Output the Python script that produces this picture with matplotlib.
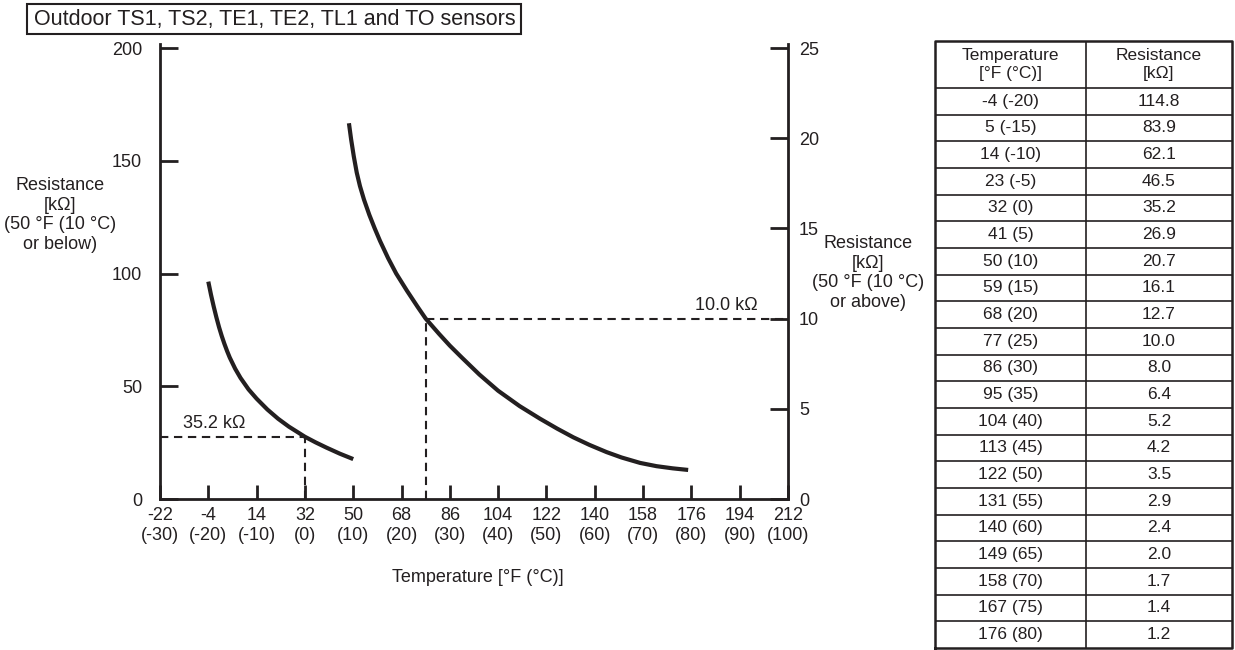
import matplotlib.pyplot as plt
from matplotlib.patches import Rectangle

plt.rcParams.update({
    'font.family': ['Liberation Sans', 'DejaVu Sans'],
    'font.size': 13,
    'text.color': '#231f20',
    'axes.edgecolor': '#231f20',
    'xtick.color': '#231f20',
    'ytick.color': '#231f20',
})
INK = '#231f20'

# Curve: left scale (50 F or below)
low_temp_f = [-4, -3, -2, -1, 0, 1, 2, 3, 4, 6, 8, 11, 14, 18, 22, 26, 32, 36, 40, 45, 50]
low_res_k = [96.4, 90.6, 85.4, 80.6, 76.2, 72.3, 68.8, 65.6, 62.7, 57.8, 53.7, 48.6, 44.5,
             39.7, 35.6, 32.1, 27.6, 25.1, 22.8, 20.1, 17.7]

# Curve: right scale (50 F or above)
high_temp_f = [48.4, 49.2, 50.2, 51.3, 52.5, 54, 56, 58, 60, 63, 66, 70, 74, 77, 82, 86, 90.4,
               97, 104, 112, 119.6, 126, 132, 138, 144.4, 150, 156.9, 163, 169, 174.8]
high_res_k = [20.83, 19.95, 19.0, 18.1, 17.35, 16.6, 15.75, 15.0, 14.3, 13.35, 12.5, 11.55,
              10.65, 10.0, 9.15, 8.5, 7.85, 6.9, 6.0, 5.15, 4.45, 3.9, 3.42, 3.0, 2.6, 2.3,
              2.0, 1.82, 1.7, 1.61]

# reference markers (x, y) and their labels
low_mark = (32, 27.6)
high_mark = (77, 10.0)
low_mark_text = '35.2 k\u03a9'
high_mark_text = '10.0 k\u03a9'

x_ticks = [-22, -4, 14, 32, 50, 68, 86, 104, 122, 140, 158, 176, 194, 212]
x_tick_c = [-30, -20, -10, 0, 10, 20, 30, 40, 50, 60, 70, 80, 90, 100]
left_ticks = [0, 50, 100, 150, 200]
right_ticks = [0, 5, 10, 15, 20, 25]

# table
tab_temp = ['-4 (-20)', '5 (-15)', '14 (-10)', '23 (-5)', '32 (0)', '41 (5)', '50 (10)',
            '59 (15)', '68 (20)', '77 (25)', '86 (30)', '95 (35)', '104 (40)', '113 (45)',
            '122 (50)', '131 (55)', '140 (60)', '149 (65)', '158 (70)', '167 (75)', '176 (80)']
tab_res = ['114.8', '83.9', '62.1', '46.5', '35.2', '26.9', '20.7', '16.1', '12.7', '10.0',
           '8.0', '6.4', '5.2', '4.2', '3.5', '2.9', '2.4', '2.0', '1.7', '1.4', '1.2']

W, H = 1235, 650
fig = plt.figure(figsize=(W / 100, H / 100), dpi=100)

# main chart
ax = fig.add_axes([160 / W, 1 - 499 / H, 628 / W, 455.5 / H])
ax.set_xlim(-22, 212)
ax.set_ylim(0, 202)
ax2 = ax.twinx()
ax2.set_ylim(0, 25.25)

for a in (ax, ax2):
    a.spines['top'].set_visible(False)
    for s in ('left', 'right', 'bottom'):
        a.spines[s].set_linewidth(2)
ax.spines['right'].set_visible(False)
ax2.spines['left'].set_visible(False)
ax2.spines['bottom'].set_visible(False)

ax.plot(low_temp_f, low_res_k, color=INK, lw=3, solid_capstyle='butt', solid_joinstyle='round')
ax2.plot(high_temp_f, high_res_k, color=INK, lw=3, solid_capstyle='butt', solid_joinstyle='round')

dash = dict(color=INK, lw=1.5, linestyle=(0, (4, 2.7)))
ax.plot([-22, low_mark[0]], [low_mark[1], low_mark[1]], **dash)
ax.plot([low_mark[0], low_mark[0]], [0, low_mark[1]], **dash)
ax2.plot([high_mark[0], 212], [high_mark[1], high_mark[1]], **dash)
ax2.plot([high_mark[0], high_mark[0]], [0, high_mark[1]], **dash)

ax.text(-13.4, 33.7, low_mark_text, ha='left', va='center')
ax2.text(200.8, 10.75, high_mark_text, ha='right', va='center')

ax.set_xticks(x_ticks)
ax.set_xticklabels([f'{f}\n({c})' for f, c in zip(x_ticks, x_tick_c)])
ax.tick_params(axis='x', direction='in', length=10, width=2, pad=6, labelsize=13)
ax.set_yticks(left_ticks)
ax.tick_params(axis='y', direction='in', length=13, width=2, pad=13, labelsize=13)
ax2.set_yticks(right_ticks)
ax2.tick_params(axis='y', direction='in', length=13, width=2, pad=8, labelsize=13)

fig.text(478 / W, 1 - 578 / H, 'Temperature [\u00b0F (\u00b0C)]', ha='center', va='center')
fig.text(60 / W, 1 - 215 / H, 'Resistance\n[k\u03a9]\n(50 \u00b0F (10 \u00b0C)\nor below)',
         ha='center', va='center', multialignment='center', linespacing=1.2)
fig.text(868 / W, 1 - 273 / H, 'Resistance\n[k\u03a9]\n(50 \u00b0F (10 \u00b0C)\nor above)',
         ha='center', va='center', multialignment='center', linespacing=1.2)

# title box
fig.patches.append(Rectangle((27 / W, 1 - 34 / H), 494 / W, 30 / H, transform=fig.transFigure,
                             fill=False, edgecolor=INK, lw=1.5))
fig.text(34 / W, 1 - 19 / H, 'Outdoor TS1, TS2, TE1, TE2, TL1 and TO sensors',
         ha='left', va='center', fontsize=15.5)

# table
n = len(tab_temp)
head = 47 / 26.67
tax = fig.add_axes([935 / W, 1 - 648 / H, 297 / W, 607 / H])
tax.set_xlim(0, 2)
tax.set_ylim(0, n + head)
tax.axis('off')
col_split = (1086 - 935) / 297 * 2
tax.plot([0, 2, 2, 0, 0], [0, 0, n + head, n + head, 0], color=INK, lw=1.8, clip_on=False)
tax.plot([col_split, col_split], [0, n + head], color=INK, lw=1.2)
for i in range(1, n + 1):
    tax.plot([0, 2], [i, i], color=INK, lw=1.2)
tax.text(col_split / 2, n + head / 2, 'Temperature\n[\u00b0F (\u00b0C)]', ha='center', va='center',
         fontsize=12.5, linespacing=1.2)
tax.text((col_split + 2) / 2, n + head / 2, 'Resistance\n[k\u03a9]', ha='center', va='center',
         fontsize=12.5, linespacing=1.2)
for i, (t, r) in enumerate(zip(tab_temp, tab_res)):
    y = n - i - 0.5
    tax.text(col_split / 2, y, t, ha='center', va='center', fontsize=12.5)
    tax.text((col_split + 2) / 2, y, r, ha='center', va='center', fontsize=12.5)

fig.savefig('out.png', dpi=100)
